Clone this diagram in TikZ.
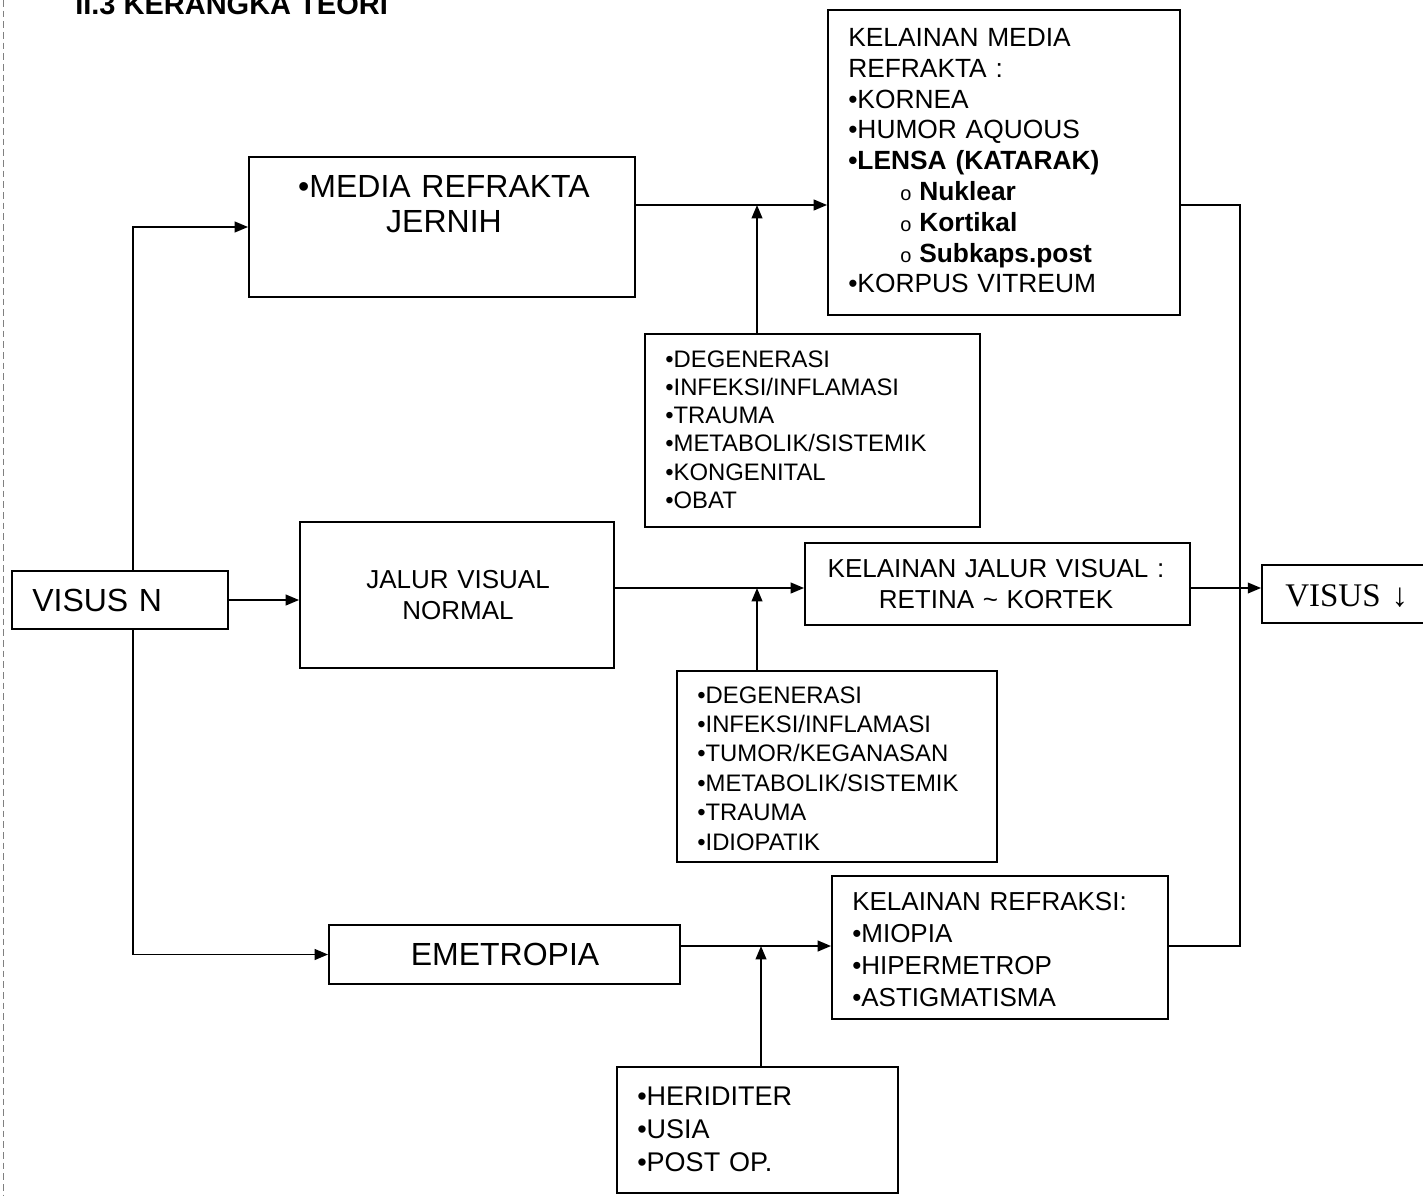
\documentclass[tikz,border=0pt]{standalone}
\usepackage{fontspec}
\setmainfont{Liberation Sans}
\newfontfamily\serifface{Liberation Serif}
\usetikzlibrary{arrows.meta,calc}
\newcommand\fsz[2]{\fontsize{#1}{#2}\selectfont}
\newcommand\subit[1]{\hspace*{39pt}{\fontsize{15pt}{15pt}\selectfont o}\hspace{0.3em}\textbf{#1}}
\begin{document}
\begin{tikzpicture}[x=0.75pt,y=-0.75pt,
  box/.style={draw, line width=1.4pt, rectangle, inner sep=0pt},
  txt/.style={inner sep=0pt, anchor=base west, text width=320pt, align=left},
  ctxt/.style={inner sep=0pt, anchor=base, text width=320pt, align=center},
  conn/.style={line width=1.4pt},
  arr/.style={line width=1.4pt, -{Triangle[length=10pt,width=8pt]}}]
\useasboundingbox (0,0) rectangle (1423,1195);
\clip (0,0) rectangle (1423,1195);
\fill[white] (0,0) rectangle (1423,1195);
% scan artefact on the left edge
\draw[gray, line width=0.5pt, dash pattern=on 5pt off 3pt] (3,0) -- (3,1195);

% title (cut at top, as in the reference)
\node[inner sep=0pt, anchor=base west, font=\bfseries\fsz{21.75pt}{26pt}] (title) at (75,15) {II.3 KERANGKA TEORI};

% boxes
\node[box, minimum width=162pt, minimum height=43.5pt] (visusn) at (120,600) {};
\node[box, minimum width=289.5pt, minimum height=105pt] (media) at (442,227) {};
\node[box, minimum width=235.5pt, minimum height=109.5pt] (jalur) at (457,595) {};
\node[box, minimum width=263.25pt, minimum height=44.25pt] (emet) at (504.5,954.5) {};
\node[box, minimum width=264pt, minimum height=228.75pt] (kmedia) at (1004,162.5) {};
\node[box, minimum width=251.25pt, minimum height=144.75pt] (deps1) at (812.5,430.5) {};
\node[box, minimum width=288.75pt, minimum height=61.5pt] (kjalur) at (997.5,584) {};
\node[box, minimum width=240pt, minimum height=143.25pt] (deps2) at (837,766.5) {};
\node[box, minimum width=252pt, minimum height=107.25pt] (kref) at (1000,947.5) {};
\node[box, minimum width=210.75pt, minimum height=94.5pt] (deps3) at (757.5,1130) {};
\node[box, minimum width=126pt, minimum height=43.5pt] (visusd) at (1346,594) {};

% texts
\node[txt, font=\fsz{24pt}{26pt}] (tvisusn) at (32,611.5) {VISUS N};
\node[ctxt, font=\fsz{24pt}{26.25pt}] (tmedia) at (444,197.5) {•MEDIA REFRAKTA\\JERNIH};
\node[ctxt, font=\fsz{19.5pt}{23.25pt}] (tjalur) at (458,588) {JALUR VISUAL\\NORMAL};
\node[ctxt, font=\fsz{24pt}{26pt}] (temet) at (505,965.5) {EMETROPIA};
\node[txt, font=\fsz{19.75pt}{23.1pt}] (tkmedia) at (848,46.5) {KELAINAN MEDIA\\REFRAKTA :\\•KORNEA\\•HUMOR AQUOUS\\\textbf{•LENSA (KATARAK)}\\\subit{Nuklear}\\\subit{Kortikal}\\\subit{Subkaps.post}\\•KORPUS VITREUM};
\node[txt, font=\fsz{17.9pt}{21.2pt}] (tdeps1) at (665,367) {•DEGENERASI\\•INFEKSI/INFLAMASI\\•TRAUMA\\•METABOLIK/SISTEMIK\\•KONGENITAL\\•OBAT};
\node[ctxt, font=\fsz{19.5pt}{23.25pt}] (tkjalur) at (996,577) {KELAINAN JALUR VISUAL :\\RETINA \textasciitilde{} KORTEK};
\node[txt, font=\fsz{17.9pt}{22.1pt}] (tdeps2) at (697,703) {•DEGENERASI\\•INFEKSI/INFLAMASI\\•TUMOR/KEGANASAN\\•METABOLIK/SISTEMIK\\•TRAUMA\\•IDIOPATIK};
\node[txt, font=\fsz{19.5pt}{24.2pt}] (tkref) at (852,910) {KELAINAN REFRAKSI:\\•MIOPIA\\•HIPERMETROP\\•ASTIGMATISMA};
\node[txt, font=\fsz{20.25pt}{25pt}] (tdeps3) at (637,1105) {•HERIDITER\\•USIA\\•POST OP.};
\node[txt, font=\serifface\fsz{24.75pt}{26pt}] (tvisusd) at (1285,606) {VISUS ↓};

% junction points
\coordinate (row1) at (757,205);
\coordinate (row2) at (757,588);
\coordinate (row3) at (761,946);
\coordinate (bus) at (1240,205);

% connectors
\draw[arr] ($(visusn.north)+(13,0)$) |- (media.west);
\draw[arr] ($(visusn.south)+(13,0)$) |- (emet.west);
\draw[arr] (visusn.east) -- (visusn.east -| jalur.west);

\draw[arr] (media.east |- row1) -- (kmedia.west |- row1);
\draw[arr] (deps1.north -| row1) -- (row1);
\draw[arr] (jalur.east |- row2) -- (kjalur.west |- row2);
\draw[arr] (deps2.north -| row2) -- (row2);
\draw[arr] (emet.east |- row3) -- (kref.west |- row3);
\draw[arr] (deps3.north -| row3) -- (row3);

\draw[conn] (kmedia.east |- bus) -- (bus) -- (bus |- row3) -- (kref.east |- row3);
\draw[arr] (kjalur.east |- row2) -- (visusd.west |- row2);
\end{tikzpicture}
\end{document}
